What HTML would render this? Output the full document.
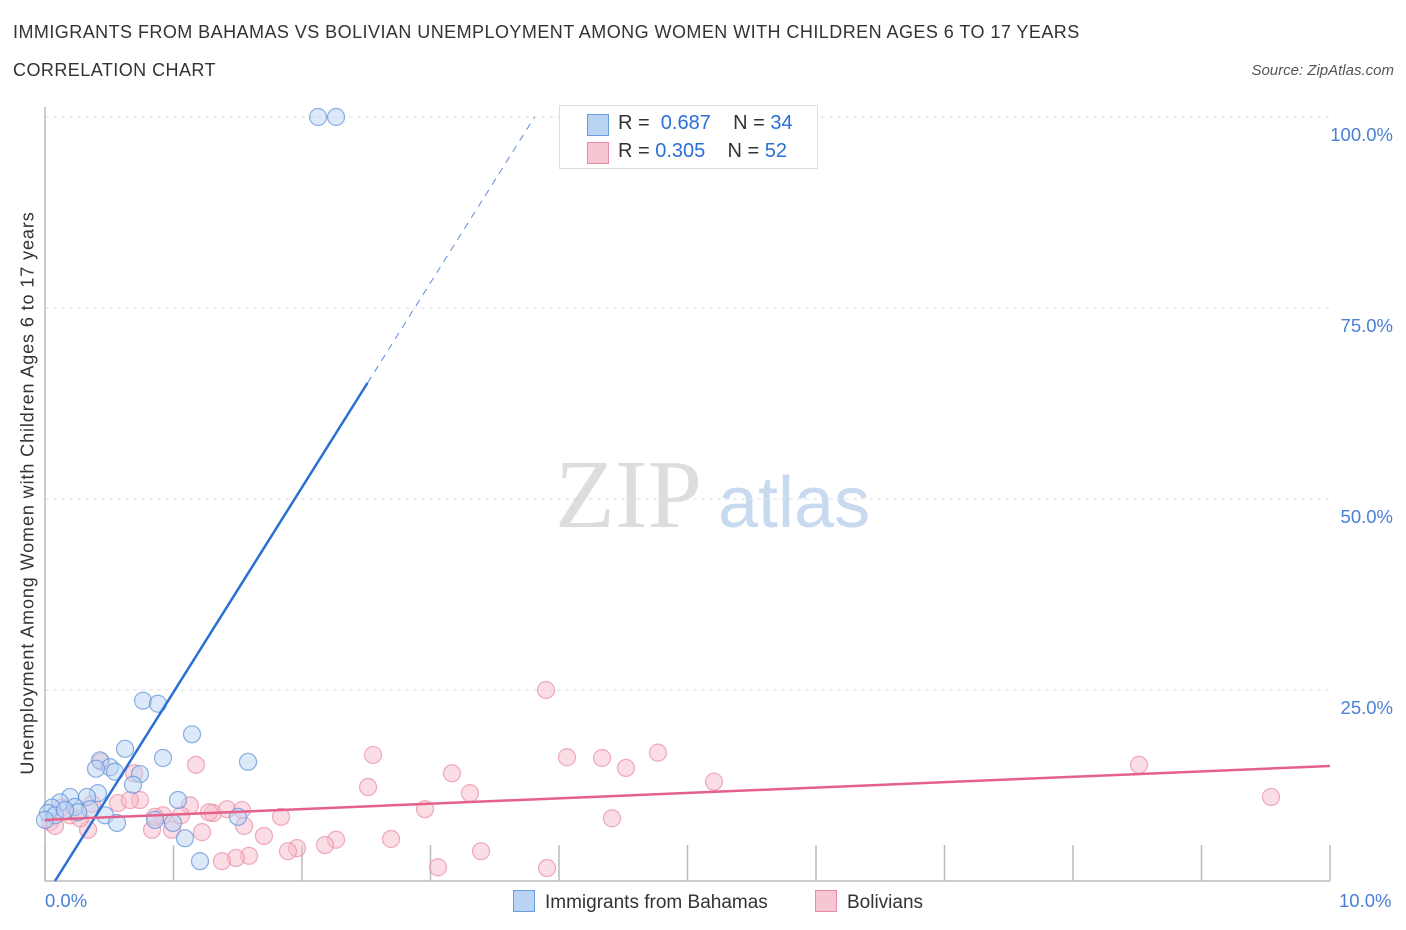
<!DOCTYPE html>
<html><head><meta charset="utf-8"><style>
body{margin:0;background:#fff;font-family:"Liberation Sans",sans-serif;}
#wrap{position:relative;width:1406px;height:930px;overflow:hidden;}
.t{position:absolute;white-space:nowrap;}
</style></head><body>
<div id="wrap">
<div class="t" style="left:13px;top:22px;font-size:18px;color:#333;letter-spacing:0.45px;">IMMIGRANTS FROM BAHAMAS VS BOLIVIAN UNEMPLOYMENT AMONG WOMEN WITH CHILDREN AGES 6 TO 17 YEARS</div>
<div class="t" style="left:13px;top:60px;font-size:18px;color:#333;letter-spacing:0.45px;">CORRELATION CHART</div>
<div class="t" style="right:12px;top:62px;font-size:15px;color:#555;font-style:italic;">Source: ZipAtlas.com</div>
<svg id="svg" width="1406" height="930" style="position:absolute;left:0;top:0"></svg>
</div>
<script>
const blueX=[0.763,0.879,1.144,0.918,1.580,0.623,0.428,0.506,0.397,0.545,0.739,0.685,0.412,0.327,1.035,0.195,0.117,0.054,0.023,0.078,0.0,0.233,0.350,0.257,0.467,0.560,0.856,0.996,1.502,1.089,1.206,2.125,2.265,0.156];
const blueY=[23.6,23.2,19.2,16.1,15.6,17.3,15.8,14.9,14.7,14.3,14.0,12.6,11.5,11.0,10.6,11.0,10.3,9.6,8.9,8.6,8.0,9.7,9.4,9.0,8.6,7.6,8.0,7.6,8.4,5.6,2.6,100,100,9.3];
const pinkX=[3.899,2.553,4.062,4.335,4.770,4.521,3.167,3.307,2.514,5.206,8.514,9.541,1.175,0.693,0.436,0.739,0.568,0.918,1.128,1.058,1.307,1.416,1.533,1.837,1.704,1.549,0.988,1.222,0.833,0.335,2.957,4.412,2.693,2.265,2.179,1.961,1.891,1.588,1.486,1.377,3.058,3.393,3.907,0.132,0.195,0.039,0.078,0.272,0.366,0.856,1.276,0.661];
const pinkY=[25.0,16.5,16.2,16.1,16.8,14.8,14.1,11.5,12.3,13.0,15.2,11.0,15.2,14.1,15.6,10.6,10.2,8.6,9.9,8.6,8.9,9.4,9.3,8.4,5.9,7.2,6.7,6.4,6.7,6.7,9.4,8.2,5.5,5.4,4.7,4.3,3.9,3.3,3.0,2.6,1.8,3.9,1.7,9.6,8.6,7.7,7.2,8.2,10.1,8.4,9.0,10.6];
const yTicks=[25,50,75,100];
const yTickLabels=["25.0%","50.0%","75.0%","100.0%"];
const xTicks=[0,1,2,3,4,5,6,7,8,9,10];
const blueLine=[0.078,0,2.51,65.2,3.81,100];
const pinkLine=[0,8.0,10,15.05];

const NS="http://www.w3.org/2000/svg",svg=document.getElementById('svg');
const X=v=>45+v*128.5, Y=v=>881-v*7.64;
function mk(t,a,p){const e=document.createElementNS(NS,t);for(const k in a)e.setAttribute(k,a[k]);(p||svg).appendChild(e);return e;}
let w=mk('text',{x:555,y:527,'font-size':98,fill:'#ddd','font-family':'Liberation Serif'});w.textContent='ZIP';


let w2=mk('text',{x:718,y:527,'font-size':72,fill:'#c8daf0','font-family':'Liberation Sans'});w2.textContent='atlas';


yTicks.forEach((t,i)=>{
  const g=mk('line',{x1:45,x2:1330,y1:Y(t),y2:Y(t),stroke:'#ddd','stroke-dasharray':'4,4'});
  
  
  const l=mk('text',{x:1393,y:Y(t)+24,'text-anchor':'end','font-size':18.5,fill:'#4a7fd4'});l.textContent=yTickLabels[i];
  
  
});
let ax=mk('line',{x1:45,x2:45,y1:107,y2:881,stroke:'#bbb','stroke-width':1.5});


let bx=mk('line',{x1:45,x2:1330,y1:881,y2:881,stroke:'#bbb','stroke-width':1.5});


xTicks.forEach(t=>{
  const k=mk('line',{x1:X(t),x2:X(t),y1:845,y2:881,stroke:'#bbb','stroke-width':1.5});
  
  
});
function dot(x,y,c,s,n){const e=mk('circle',{cx:X(x),cy:Y(y),r:8.5,fill:c,'fill-opacity':0.5,stroke:s,'stroke-width':1.2,'stroke-opacity':0.7});
  
  }
pinkX.forEach((x,i)=>dot(x,pinkY[i],'#f7bccb','#e88aa3','bolivians-point'));
blueX.forEach((x,i)=>dot(x,blueY[i],'#b9d3f3','#5b8fd8','bahamas-point'));
let bl=mk('line',{x1:X(blueLine[0]),y1:Y(blueLine[1]),x2:X(blueLine[2]),y2:Y(blueLine[3]),stroke:'#2a6fd6','stroke-width':2.5});


let bd=mk('line',{x1:X(blueLine[2]),y1:Y(blueLine[3]),x2:X(blueLine[4]),y2:Y(blueLine[5]),stroke:'#5b8fd8','stroke-width':1,'stroke-dasharray':'7,6'});


let pl=mk('line',{x1:X(pinkLine[0]),y1:Y(pinkLine[1]),x2:X(pinkLine[2]),y2:Y(pinkLine[3]),stroke:'#e5608a','stroke-width':2.5});


</script>
<div class="t" style="left:45px;top:890px;font-size:18.5px;color:#4a7fd4;">0.0%</div>
<div class="t" style="left:1339px;top:890px;font-size:18.5px;color:#4a7fd4;">10.0%</div>
<div class="t" style="left:28px;top:493px;font-size:18px;color:#333;letter-spacing:0.9px;transform:translate(-50%,-50%) rotate(-90deg);">Unemployment Among Women with Children Ages 6 to 17 years</div>
<div style="position:absolute;left:559px;top:105px;width:257px;height:62px;border:1px solid #ddd;background:#fff;font-size:20px;">
 <div style="position:absolute;left:27px;top:8px;width:20px;height:20px;background:#b9d3f3;border:1px solid #6a9ae0;"></div>
 <div class="t" style="left:58px;top:6px;color:#333;">R = <span style="color:#2a6fd6">&nbsp;0.687</span>&nbsp;&nbsp;&nbsp; N = <span style="color:#2a6fd6">34</span></div>
 <div style="position:absolute;left:27px;top:36px;width:20px;height:20px;background:#f7c6d3;border:1px solid #e88aa3;"></div>
 <div class="t" style="left:58px;top:34px;color:#333;">R = <span style="color:#2a6fd6">0.305</span>&nbsp;&nbsp;&nbsp; N = <span style="color:#2a6fd6">52</span></div>
</div>
<div style="position:absolute;left:513px;top:890px;font-size:19px;color:#333;"><span style="display:inline-block;width:20px;height:20px;background:#b9d3f3;border:1px solid #6a9ae0;vertical-align:-4px;margin-right:10px;"></span>Immigrants from Bahamas</div>
<div style="position:absolute;left:815px;top:890px;font-size:19px;color:#333;"><span style="display:inline-block;width:20px;height:20px;background:#f7c6d3;border:1px solid #e88aa3;vertical-align:-4px;margin-right:10px;"></span>Bolivians</div>
</body></html>
